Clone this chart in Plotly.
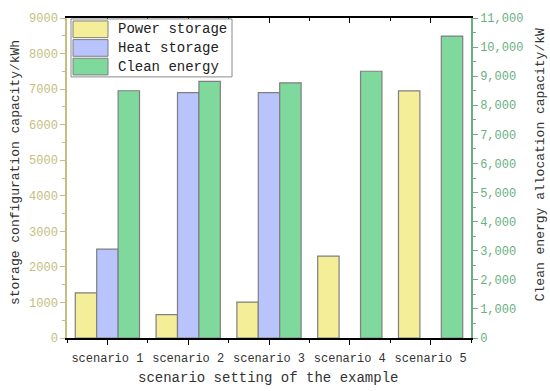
import plotly.graph_objects as go

categories = ["scenario 1", "scenario 2", "scenario 3", "scenario 4", "scenario 5"]
series_names = ["Power storage", "Heat storage", "Clean energy"]
power_storage = [1270, 660, 1010, 2300, 6950]
heat_storage = [2500, 6900, 6900, None, None]
clean_energy = [8500, 8820, 8770, 9170, 10380]

xpos = [1, 2, 3, 4, 5]
FONT = "Liberation Mono"
LEFT_C = "rgb(196,190,128)"
RIGHT_C = "rgb(104,176,128)"
COLORS = ["#f3ee97", "#b8c4fb", "#7fd89c"]
EDGE = "#7f7f7f"

# plot area in pixels
L, R, T, B = 67, 471, 12, 338
W_PX, H_PX = 550, 391


def px(x):
    return (x - L) / (R - L)


def py(y):
    return (B - y) / (B - T)


fig = go.Figure()
W = 0.265
vals = [power_storage, heat_storage, clean_energy]
for i, (nm, v) in enumerate(zip(series_names, vals)):
    fig.add_trace(go.Bar(x=xpos, y=v, name=nm, width=W, offset=(i - 1.5) * W,
                         yaxis="y2" if i == 2 else "y", showlegend=False,
                         marker=dict(color=COLORS[i], line=dict(color=EDGE, width=1.2))))
# invisible trace for top axis
fig.add_trace(go.Scatter(x=[1], y=[0], xaxis="x2", mode="markers", marker=dict(opacity=0),
                         showlegend=False, hoverinfo="skip"))

shapes = []
annotations = []
# legend box
shapes.append(dict(type="rect", xref="paper", yref="paper", x0=px(71), x1=px(232), y0=py(72), y1=py(13),
                   fillcolor="white", line=dict(color="#8a8a8a", width=1)))
rows = [(15, 32), (34, 51), (53, 70)]
for i, nm in enumerate(series_names):
    y0, y1 = rows[i]
    shapes.append(dict(type="rect", xref="paper", yref="paper", x0=px(73), x1=px(108), y0=py(y1), y1=py(y0),
                       fillcolor=COLORS[i], line=dict(color=EDGE, width=1)))
    annotations.append(dict(xref="paper", yref="paper", x=px(116), y=py((y0 + y1) / 2), text=nm,
                            showarrow=False, xanchor="left", yanchor="middle",
                            font=dict(family=FONT, size=14, color="#222")))

# axis titles
annotations.append(dict(xref="paper", yref="paper", x=px(15), y=py(170), text="storage configuration capacity/kWh",
                        textangle=-90, showarrow=False, xanchor="center", yanchor="middle",
                        font=dict(family=FONT, size=13, color="#333")))
annotations.append(dict(xref="paper", yref="paper", x=px(540), y=py(162), text="Clean energy allocation capacity/kW",
                        textangle=-90, showarrow=False, xanchor="center", yanchor="middle",
                        font=dict(family=FONT, size=13, color="#333")))
annotations.append(dict(xref="paper", yref="paper", x=px(268), y=py(379), text="scenario setting of the example",
                        showarrow=False, xanchor="center", yanchor="middle",
                        font=dict(family=FONT, size=14, color="#333")))

fig.update_layout(
    width=W_PX, height=H_PX,
    margin=dict(l=L, r=W_PX - R, t=T, b=H_PX - B),
    plot_bgcolor="white", paper_bgcolor="white",
    font=dict(family=FONT, size=12, color="#333"),
    barmode="overlay",
    showlegend=False,
    shapes=shapes,
    annotations=annotations,
    xaxis=dict(range=[0.5, 5.5], tickvals=xpos, ticktext=categories, showline=True, linecolor="black",
               linewidth=1.5, ticks="outside", ticklen=5, tickcolor="black", showgrid=False, zeroline=False,
               tickfont=dict(family=FONT, size=12, color="#333"), ticklabelstandoff=3,
               minor=dict(ticks="outside", ticklen=3, dtick=0.5, tick0=0.5, tickcolor="black")),
    xaxis2=dict(range=[0.5, 5.5], overlaying="x", side="top", showline=True, linecolor="black", linewidth=1.5,
                ticks="inside", ticklen=5, tickvals=xpos, showticklabels=False, showgrid=False, zeroline=False,
                minor=dict(ticks="inside", ticklen=3, dtick=0.5, tick0=0.5, tickcolor="black"), tickcolor="black"),
    yaxis=dict(range=[0, 9000], dtick=1000, showline=True, linecolor=LEFT_C, linewidth=1.5, ticks="outside",
               ticklen=5, tickcolor=LEFT_C, showgrid=False, zeroline=False,
               tickfont=dict(family=FONT, size=12, color=LEFT_C),
               minor=dict(ticks="outside", ticklen=3, dtick=500, tickcolor=LEFT_C)),
    yaxis2=dict(range=[0, 11000], dtick=1000, overlaying="y", side="right", showline=True, linecolor=RIGHT_C,
                linewidth=1.5, ticks="outside", ticklen=5, tickcolor=RIGHT_C, showgrid=False, zeroline=False,
                tickformat=",d", tickfont=dict(family=FONT, size=12, color=RIGHT_C),
                minor=dict(ticks="outside", ticklen=3, dtick=500, tickcolor=RIGHT_C)),
)

fig.write_html("out.html", config={"displayModeBar": False},
               post_script="document.body.style.margin='0';document.body.style.overflow='hidden';")
